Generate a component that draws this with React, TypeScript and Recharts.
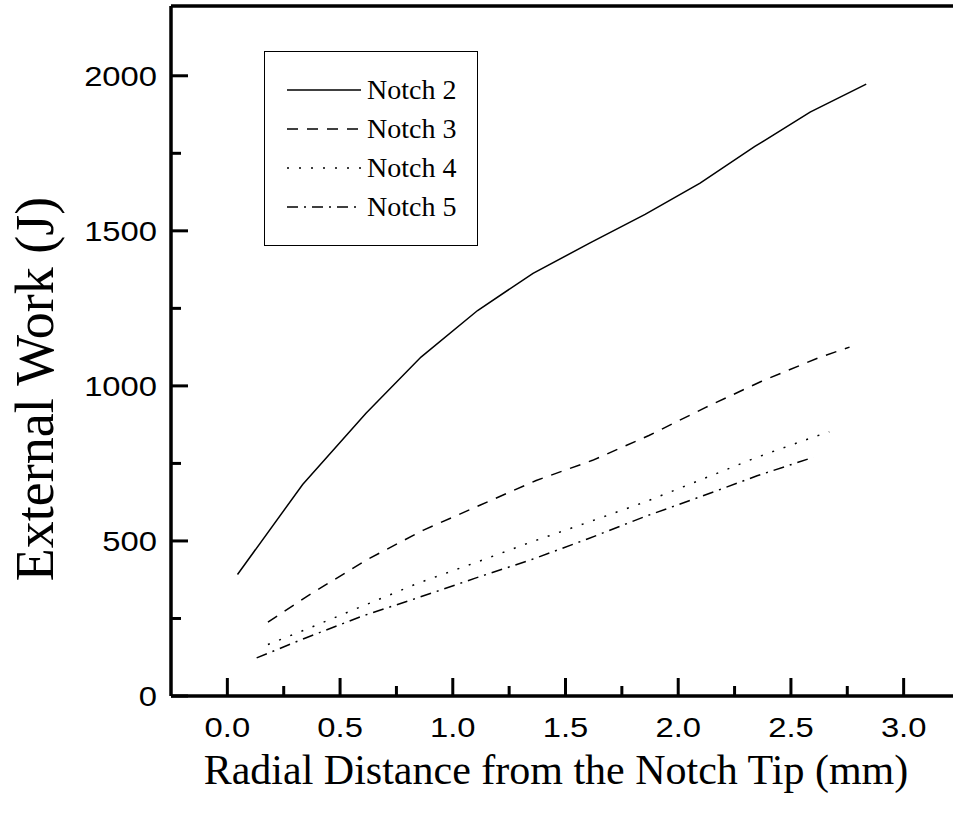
import { Legend, Line, LineChart, XAxis, YAxis } from 'recharts';

type Pt = { x: number; y: number };

const X_DOMAIN: [number, number] = [-0.25, 3.25];
const Y_DOMAIN: [number, number] = [0, 2225];
const xTicks = [0, 0.25, 0.5, 0.75, 1, 1.25, 1.5, 1.75, 2, 2.25, 2.5, 2.75, 3];
const yTicks = [0, 250, 500, 750, 1000, 1250, 1500, 1750, 2000];

const notch2: Pt[] = [
  { x: 0.045, y: 392 },
  { x: 0.334, y: 682 },
  { x: 0.615, y: 912 },
  { x: 0.859, y: 1093 },
  { x: 1.11, y: 1243 },
  { x: 1.356, y: 1363 },
  { x: 1.609, y: 1461 },
  { x: 1.853, y: 1553 },
  { x: 2.097, y: 1654 },
  { x: 2.34, y: 1772 },
  { x: 2.585, y: 1883 },
  { x: 2.834, y: 1973 },
];

const notch3: Pt[] = [
  { x: 0.18, y: 238 },
  { x: 0.35, y: 320 },
  { x: 0.62, y: 440 },
  { x: 0.87, y: 535 },
  { x: 1.12, y: 615 },
  { x: 1.37, y: 695 },
  { x: 1.62, y: 760 },
  { x: 1.87, y: 840 },
  { x: 2.12, y: 930 },
  { x: 2.37, y: 1015 },
  { x: 2.62, y: 1090 },
  { x: 2.76, y: 1125 },
];

const notch4: Pt[] = [
  { x: 0.18, y: 166 },
  { x: 0.35, y: 215 },
  { x: 0.6, y: 290 },
  { x: 0.85, y: 365 },
  { x: 1.1, y: 430 },
  { x: 1.35, y: 497 },
  { x: 1.6, y: 560 },
  { x: 1.85, y: 625 },
  { x: 2.1, y: 697 },
  { x: 2.35, y: 770 },
  { x: 2.6, y: 835 },
  { x: 2.67, y: 852 },
];

const notch5: Pt[] = [
  { x: 0.13, y: 123 },
  { x: 0.35, y: 188 },
  { x: 0.6, y: 258 },
  { x: 0.85, y: 318 },
  { x: 1.1, y: 380 },
  { x: 1.35, y: 440 },
  { x: 1.6, y: 507 },
  { x: 1.85, y: 578 },
  { x: 2.1, y: 643 },
  { x: 2.35, y: 710 },
  { x: 2.6, y: 770 },
];

const series = [
  { name: 'Notch 2', data: notch2, dash: undefined as string | undefined },
  { name: 'Notch 3', data: notch3, dash: '11 9' },
  { name: 'Notch 4', data: notch4, dash: '2 10' },
  { name: 'Notch 5', data: notch5, dash: '11 6 2 6' },
];

const SANS = '"Liberation Sans", Arial, sans-serif';
const SERIF = '"Liberation Serif", "Times New Roman", serif';
const AXIS_W = 3.5;

const isMajorX = (v: number) => Math.abs(v * 2 - Math.round(v * 2)) < 1e-6;

function XTick(props: any) {
  const { x, y, payload } = props;
  const major = isMajorX(payload.value);
  return (
    <g>
      <line x1={x} x2={x} y1={y} y2={y - (major ? 18 : 10)} stroke="#000" strokeWidth={3} />
      {major && (
        <g transform={`translate(${x},${y + 21}) scale(1.17,1)`}>
          <text x={0} y={0} dy="0.71em" textAnchor="middle" fontFamily={SANS} fontSize={28} fill="#000">
            {payload.value.toFixed(1)}
          </text>
        </g>
      )}
    </g>
  );
}

function YTick(props: any) {
  const { x, y, payload } = props;
  const major = payload.value % 500 === 0;
  return (
    <g>
      <line x1={x} x2={x + (major ? 17 : 10)} y1={y} y2={y} stroke="#000" strokeWidth={3} />
      {major && (
        <g transform={`translate(${x - 14},${y}) scale(1.17,1)`}>
          <text x={0} y={0} dy="0.36em" textAnchor="end" fontFamily={SANS} fontSize={28} fill="#000">
            {payload.value}
          </text>
        </g>
      )}
    </g>
  );
}

function LegendBox() {
  return (
    <div
      style={{
        boxSizing: 'border-box',
        width: 214,
        height: 195,
        border: '1.5px solid #000',
        paddingTop: 18,
        background: '#fff',
      }}
    >
      {series.map((s) => (
        <div key={s.name} style={{ display: 'flex', alignItems: 'center', height: 39 }}>
          <svg width={96} height={10} style={{ display: 'block' }}>
            <line x1={22} x2={96} y1={5} y2={5} stroke="#000" strokeWidth={1.5} strokeDasharray={s.dash} />
          </svg>
          <span style={{ fontFamily: SERIF, fontSize: 28, marginLeft: 6, color: '#000', lineHeight: 1 }}>
            {s.name}
          </span>
        </div>
      ))}
    </div>
  );
}

export default function App() {
  return (
    <div style={{ position: 'absolute', left: 0, top: 0, width: 953, height: 817, overflow: 'hidden', background: '#fff' }}>
      <LineChart width={1000} height={817} margin={{ top: 4, right: 40, left: 0, bottom: 0 }}>
        {/* top frame edge, no ticks */}
        <XAxis
          xAxisId="top"
          orientation="top"
          type="number"
          domain={X_DOMAIN}
          ticks={xTicks}
          allowDataOverflow
          height={2}
          tick={false}
          tickLine={false}
          axisLine={{ stroke: '#000', strokeWidth: AXIS_W }}
        />
        <XAxis
          dataKey="x"
          type="number"
          domain={X_DOMAIN}
          ticks={xTicks}
          interval={0}
          allowDataOverflow
          height={121}
          tickSize={0}
          tickMargin={0}
          tickLine={false}
          tick={<XTick />}
          axisLine={{ stroke: '#000', strokeWidth: AXIS_W }}
          label={{
            content: () => (
              <text x={556} y={784} textAnchor="middle" fontFamily={SERIF} fontSize={42} fill="#000">
                Radial Distance from the Notch Tip (mm)
              </text>
            ),
          }}
        />
        <YAxis
          type="number"
          domain={Y_DOMAIN}
          ticks={yTicks}
          interval={0}
          allowDataOverflow
          width={171}
          tickSize={0}
          tickMargin={0}
          tickLine={false}
          tick={<YTick />}
          axisLine={{ stroke: '#000', strokeWidth: AXIS_W }}
          label={{
            content: () => (
              <text
                x={35}
                y={389}
                transform="rotate(-90 35 389)"
                textAnchor="middle"
                dominantBaseline="central"
                fontFamily={SERIF}
                fontSize={54}
                fill="#000"
              >
                External Work (J)
              </text>
            ),
          }}
        />
        <Legend
          layout="horizontal"
          verticalAlign="middle"
          align="center"
          content={() => <LegendBox />}
          wrapperStyle={{ position: 'absolute', left: 264, top: 51, width: 214, height: 195 }}
        />
        {series.map((s) => (
          <Line
            key={s.name}
            name={s.name}
            data={s.data}
            dataKey="y"
            type="linear"
            stroke="#000"
            strokeWidth={1.5}
            strokeDasharray={s.dash}
            dot={false}
            activeDot={false}
            isAnimationActive={false}
          />
        ))}
      </LineChart>
    </div>
  );
}
